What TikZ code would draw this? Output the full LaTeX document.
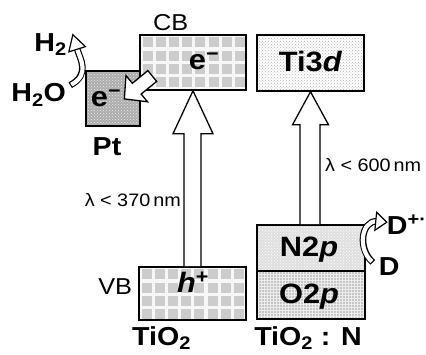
\documentclass[tikz,border=0pt]{standalone}
\usepackage{fontspec}
\setmainfont{Liberation Sans}[FakeStretch=1.1]
\usetikzlibrary{calc,patterns}

\begin{document}
\begin{tikzpicture}[x=1pt,y=-1pt,
  boxline/.style={draw=black,line width=1.5pt,inner sep=0pt,text depth=0pt},
  cbvb/.style={boxline,fill=gray!6,path picture={
      \foreach \i in {0,...,8} \foreach \j in {0,...,4}
        \fill[gray!40] ($(path picture bounding box.north west)+(2.5+13.2*\i,2.5+13.2*\j)$) rectangle +(10,10);}},
  tibox/.style={boxline,preaction={fill=white},pattern=crosshatch dots,pattern color=gray!60},
  nbox/.style={boxline,preaction={fill=gray!25},pattern=crosshatch dots,pattern color=white},
  obox/.style={boxline,preaction={fill=gray!45},pattern=grid,pattern color=gray!15},
  ptbox/.style={boxline,preaction={fill=gray!65},pattern=crosshatch dots,pattern color=gray!15},
  blk/.style={draw=black,fill=white,line width=1.3pt,line join=miter},
  curv/.style={draw=white,line width=4.2pt,shorten <=1.2pt,
      preaction={draw=black,line width=6.6pt,shorten <=0pt}},
  boxlbl/.style={font=\fontsize{28}{30}\selectfont\bfseries,inner sep=0pt},
  sidelbl/.style={font=\fontsize{26}{28}\selectfont\bfseries,inner sep=0pt},
  bandlbl/.style={font=\fontsize{23}{25}\selectfont,inner sep=0pt},
  wavelbl/.style={font=\fontsize{18}{20}\selectfont,inner sep=0pt}]
  \useasboundingbox (0,0) rectangle (426,355);

  \node[ptbox,minimum width=54pt,minimum height=55pt] (pt) at (113,98.5) {};
  \node[cbvb,minimum width=106pt,minimum height=55pt] (cb) at (193,62.5) {};
  \node[tibox,minimum width=107pt,minimum height=56pt] (ti3d) at (310.5,63) {};
  \node[cbvb,minimum width=107pt,minimum height=53pt] (vb) at (192.5,293.5) {};
  \node[nbox,minimum width=108pt,minimum height=46pt] (n2p) at (311,248) {};
  \node[obox,minimum width=108pt,minimum height=48pt] (o2p) at (311,295) {};

  \node[boxlbl,anchor=base] (ecb) at ($(cb.center)+(11,7.5)$) {e\textsuperscript{−}};
  \node[boxlbl,anchor=base] (tid) at ($(ti3d.center)+(0,9)$) {Ti3\textit{d}};
  \node[boxlbl,anchor=base] (hole) at ($(vb.center)+(0.5,-0.5)$) {\textit{h}\textsuperscript{+}};
  \node[boxlbl,anchor=base] (nlbl) at ($(n2p.center)+(-2,9)$) {N2\textit{p}};
  \node[boxlbl,anchor=base] (olbl) at ($(o2p.center)+(-2,9)$) {O2\textit{p}};
  \node[boxlbl,anchor=base] (ept) at ($(pt.center)+(-7,8.5)$) {e\textsuperscript{−}};

  \node[bandlbl,anchor=base] (cblbl) at ($(cb.north west)+(31.5,-4)$) {CB};
  \node[bandlbl,anchor=base east] (vblbl) at ($(vb.west)+(-6,1.5)$) {VB};
  \node[sidelbl,anchor=base] (tio) at ($(vb.south)+(-31,25)$) {TiO\textsubscript{2}};
  \node[sidelbl,anchor=base] (tion) at ($(o2p.south)+(-3,26)$) {TiO\textsubscript{2} : N};
  \node[sidelbl,anchor=base] (ptlbl) at ($(pt.south)+(-6,29)$) {Pt};
  \node[sidelbl,anchor=base west] (htwo) at ($(pt.north west)+(-51,-19)$) {H\textsubscript{2}};
  \node[sidelbl,anchor=base west] (water) at ($(pt.west)+(-74,3.5)$) {H\textsubscript{2}O};
  \node[sidelbl,anchor=base west] (dplus) at ($(n2p.north east)+(21,10)$) {D\textsuperscript{+·}};
  \node[sidelbl,anchor=base west] (donor) at ($(n2p.south east)+(13,4)$) {D};
  \node[wavelbl,anchor=base east] (uv) at ($(vb.north)+(-11.5,-60)$) {λ < 370\,nm};
  \node[wavelbl,anchor=base west] (vis) at ($(n2p.north)+(14,-53)$) {λ < 600\,nm};

  \draw[blk] ($(vb.north)+(-8.5,0)$) |- ($(cb.south)+(-20,43)$) -- (cb.south)
    -- ($(cb.south)+(20,43)$) -| ($(vb.north)+(8.5,0)$);
  \draw[blk] ($(n2p.north)+(-11,0)$) |- ($(ti3d.south)+(-18,33)$) -- (ti3d.south)
    -- ($(ti3d.south)+(18,33)$) -| ($(n2p.north)+(9,0)$);

  \begin{scope}[shift={(cb.west)}]
    \draw[blk] (8.6,8.1) -- (17.4,18.9) -- (1.9,31.6) -- (8.3,39.3) -- (-14.9,36.4)
      -- (-13.3,13.1) -- (-6.9,20.8) -- cycle;
  \end{scope}

  \begin{scope}[shift={(pt.north west)}]
    \path[curv] (-15,15) .. controls (5,4) and (-5,-11) .. (-8,-21);
    \draw[blk,line width=1.2pt] (0.2,-23.6) -- (-12.4,-35.6) -- (-16.4,-18.4) -- cycle;
  \end{scope}
  \begin{scope}[shift={(n2p.north east)}]
    \path[curv] (7,38) .. controls (-8,25) and (-5,-3) .. (11,-3);
    \draw[blk,line width=1.2pt] (9.1,6) -- (21,-2) -- (10.9,-12) -- cycle;
  \end{scope}
\end{tikzpicture}
\end{document}
